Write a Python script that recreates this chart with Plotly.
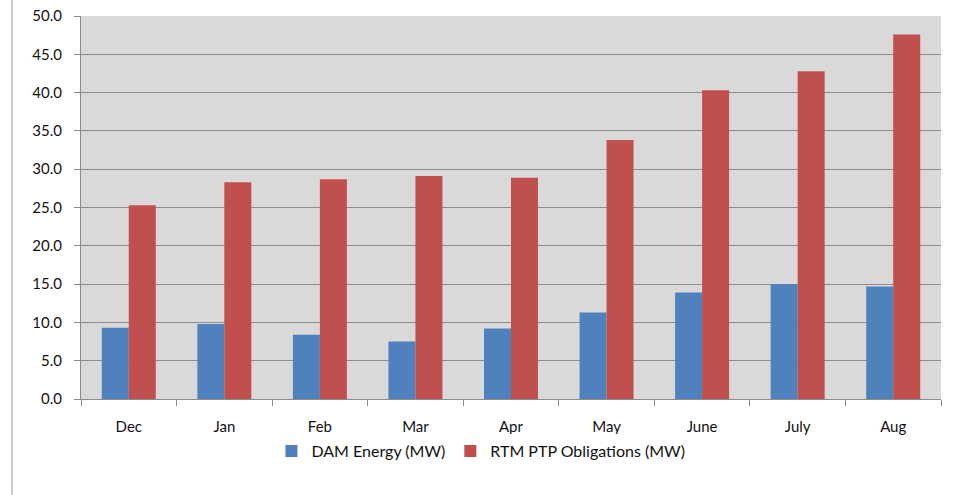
import plotly.graph_objects as go

months = ["Dec", "Jan", "Feb", "Mar", "Apr", "May", "June", "July", "Aug"]
dam_energy = [9.3, 9.8, 8.4, 7.5, 9.2, 11.3, 13.9, 15.0, 14.7]
rtm_ptp = [25.3, 28.3, 28.7, 29.1, 28.9, 33.8, 40.3, 42.8, 47.6]
y_ticks = [0, 5, 10, 15, 20, 25, 30, 35, 40, 45, 50]

_BLUE = "#4F81BD"
_RED = "#C0504D"
_PLOT_BG = "#D9D9D9"
_GRID = "#8C8C8C"
_TEXT = "#111111"
_FONT = "Lato, 'Open Sans', sans-serif"

fig = go.Figure()
fig.add_trace(go.Bar(x=months, y=dam_energy, name="DAM Energy (MW)",
                     marker=dict(color=_BLUE, line=dict(width=0))))
fig.add_trace(go.Bar(x=months, y=rtm_ptp, name="RTM PTP Obligations (MW)",
                     marker=dict(color=_RED, line=dict(width=0))))

fig.update_xaxes(
    showgrid=False, showline=True, linecolor=_GRID, linewidth=1,
    ticks="outside", tickson="boundaries", ticklen=6, tickcolor=_GRID,
    ticklabelstandoff=14,
    tickfont=dict(size=15, color=_TEXT, family=_FONT),
)
fig.update_yaxes(
    range=[0, 50], tickvals=y_ticks, tickformat=".1f",
    showgrid=True, gridcolor=_GRID, gridwidth=1, zeroline=False,
    showline=True, linecolor=_GRID, linewidth=1,
    ticks="outside", ticklen=6, tickcolor=_GRID,
    ticklabelstandoff=9,
    tickfont=dict(size=15, color=_TEXT, family=_FONT),
)

# left frame line of the original screenshot
fig.add_shape(type="line", xref="paper", yref="paper",
              x0=-69 / 860, x1=-69 / 860, y0=-96 / 383, y1=1 + 16 / 383,
              line=dict(color="#9a9a9a", width=1))

fig.update_layout(
    width=958, height=495,
    margin=dict(l=81, r=17, t=16, b=96, autoexpand=False),
    plot_bgcolor=_PLOT_BG, paper_bgcolor="white",
    barmode="group", bargap=0.435, bargroupgap=0,
    font=dict(family=_FONT, color=_TEXT),
    showlegend=True,
    legend=dict(orientation="h", x=0.465, xanchor="center",
                y=-0.136, yanchor="middle",
                font=dict(size=16, family=_FONT, color=_TEXT),
                itemwidth=30, traceorder="normal"),
)

# drop the default 8px body margin so the figure fills the window
fig.write_html("out.html", config={"displayModeBar": False},
               post_script="document.body.style.margin='0';")
